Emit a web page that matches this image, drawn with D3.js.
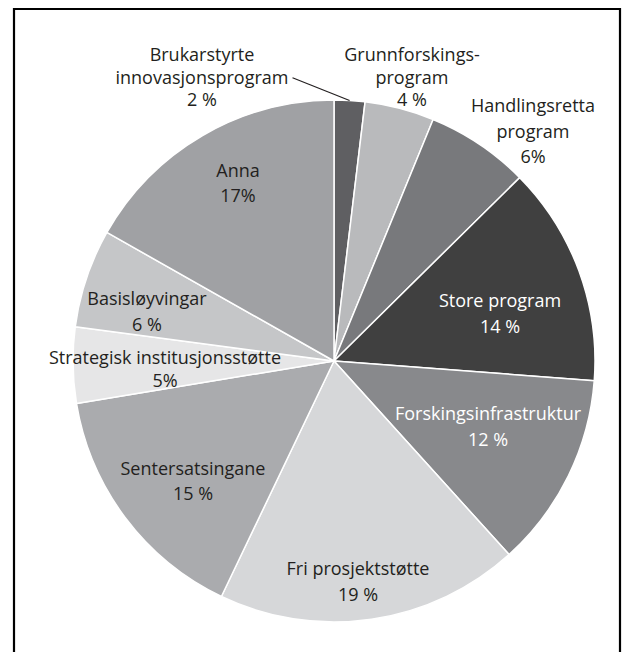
<!DOCTYPE html>
<html><head><meta charset="utf-8">
<script src="https://cdn.jsdelivr.net/npm/d3@7"></script>
<style>body{margin:0;background:#fff}svg{display:block}text{font-family:"Open Sans",Lato,sans-serif}</style>
</head><body>
<svg id="c" width="627" height="652"></svg>
<script>
const categories = ["Brukarstyrte innovasjonsprogram","Grunnforskingsprogram","Handlingsretta program","Store program","Forskingsinfrastruktur","Fri prosjektstøtte","Sentersatsingane","Strategisk institusjonsstøtte","Basisløyvingar","Anna"];
const values = [1.9, 4.3, 6.4, 13.6, 12.1, 18.8, 15.3, 4.7, 6.1, 16.8];
const labelLines = [["Brukarstyrte","innovasjonsprogram"],["Grunnforskings-","program"],["Handlingsretta","program"],["Store program"],["Forskingsinfrastruktur"],["Fri prosjektstøtte"],["Sentersatsingane"],["Strategisk institusjonsstøtte"],["Basisløyvingar"],["Anna"]];
const pctLabels = ["2 %","4 %","6%","14 %","12 %","19 %","15 %","5%","6 %","17%"];
const colors = ["#5f5f62","#b9babc","#78797c","#404040","#88898c","#d6d7d9","#aaabae","#e6e6e7","#c5c6c8","#a0a1a4"];
const textColors = ["#231f20","#231f20","#231f20","#ffffff","#ffffff","#231f20","#231f20","#231f20","#231f20","#231f20"];
// label layout: [x, y of first line centre, line step]
const labelLayout = [[202,55,22.3],[412,55,22.3],[533,106,25.5],[500,301,25.5],[488,414,25.5],[358,569,26],[193,469,25],[165,358,22.3],[147,299,25.5],[238,171,25]];

const svg = d3.select("#c");
const cx = 334, cy = 361, R = 261;
// frame
svg.append("path").attr("d","M14,652 L14,9 L620,9 L620,652").attr("fill","none").attr("stroke","#000").attr("stroke-width",2.2);

const pie = d3.pie().sort(null).value(d=>d)(values);
const arc = d3.arc().innerRadius(0).outerRadius(R);
const g = svg.append("g").attr("transform",`translate(${cx},${cy})`);
g.selectAll("path").data(pie).join("path")
  .attr("d",arc).attr("fill",(d,i)=>colors[i])
  .attr("stroke","#fff").attr("stroke-width",1.5).attr("stroke-linejoin","round");

const fs = 18;
categories.forEach((c,i)=>{
  const [x,y0,step] = labelLayout[i];
  const lines = labelLines[i].concat([pctLabels[i]]);
  lines.forEach((t,k)=>{
    svg.append("text").attr("class","lbl"+i+"_"+k).attr("x",x).attr("y",y0+k*step).attr("dy","0.36em")
      .attr("text-anchor","middle").attr("font-size",fs).attr("fill",textColors[i]).text(t);
  });
});
// leader line for Brukarstyrte
const t = svg.select(".lbl0_1").node();
const bb = t.getBBox();
const mid = (pie[0].startAngle+pie[0].endAngle)/2;
const ex = cx + R*Math.sin(mid), ey = cy - R*Math.cos(mid);
svg.append("line").attr("x1",bb.x+bb.width+4).attr("y1",bb.y+bb.height*0.5+1)
  .attr("x2",ex).attr("y2",ey).attr("stroke","#231f20").attr("stroke-width",1.2);
</script>
</body></html>
